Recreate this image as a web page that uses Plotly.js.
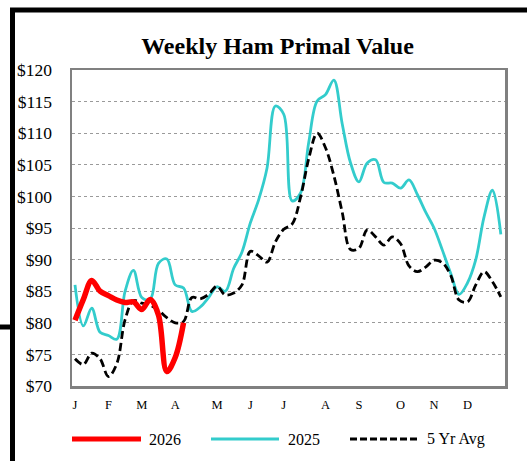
<!DOCTYPE html>
<html>
<head>
<meta charset="utf-8">
<script src="https://cdn.plot.ly/plotly-3.0.1.min.js"></script>
<style>
  html, body { margin: 0; padding: 0; background: #fff; }
  #chart { width: 527px; height: 461px; }
</style>
</head>
<body>
<div id="chart"></div>
<script>
// ---- Data (weekly values, week 1..52) ----
const seriesNames = ["2026", "2025", "5 Yr Avg"];

const values2026 = [80.4, 83.7, 86.7, 85.0, 84.3, 83.6, 83.2, 83.3, 82.1, 83.7, 81.2, 72.3, 74.5, 80.0];

const values2025 = [86.0, 79.5, 82.3, 78.5, 78.0, 77.4, 85.0, 88.3, 84.0, 83.7, 89.4, 90.1, 86.0, 85.5,
  81.8, 82.5, 84.0, 85.7, 85.0, 88.6, 91.2, 95.8, 99.5, 104.5, 114.3, 113.0, 99.3, 100.5,
  108.6, 115.1, 116.1, 118.4, 111.5, 105.3, 102.3, 105.3, 105.8, 102.2, 102.1, 101.3, 102.6,
  100.3, 97.5, 95.0, 91.5, 87.8, 84.5, 86.3, 90.0, 96.8, 101.0, 94.0];

const valuesAvg = [74.3, 73.4, 75.2, 74.3, 71.5, 73.5, 80.5, 83.5, 83.1, 82.8, 82.0, 80.8, 80.0, 80.2,
  84.0, 83.8, 84.5, 85.8, 84.4, 84.7, 86.0, 91.3, 90.6, 89.6, 92.8, 94.8, 95.6, 99.8,
  106.0, 110.0, 107.7, 103.3, 97.5, 91.6, 91.8, 94.7, 93.6, 92.3, 93.6, 92.5, 89.0,
  88.1, 88.8, 89.9, 89.5, 87.5, 83.6, 83.3, 86.0, 88.1, 86.5, 84.1];

const monthLabels = ["J", "F", "M", "A", "M", "J", "J", "A", "S", "O", "N", "D"];
const monthWeeks = [1, 5, 9, 13, 18, 22, 26, 31, 35, 40, 44, 48];

const yTicks = [70, 75, 80, 85, 90, 95, 100, 105, 110, 115, 120];
const yTickLabels = ["$70", "$75", "$80", "$85", "$90", "$95", "$100", "$105", "$110", "$115", "$120"];

// ---- Styling ----
const colors = ["#FF0000", "#33CCCC", "#000000"];
const FONT = "Liberation Serif, Times New Roman, serif";

const W = 527, H = 461;
const M = { l: 72, r: 22, t: 70, b: 75 };
const plotW = W - M.l - M.r, plotH = H - M.t - M.b;
const px = x => (x - M.l) / plotW;        // page px -> paper x
const py = y => (H - M.b - y) / plotH;    // page py -> paper y

const weeksOf = arr => arr.map((_, i) => i + 1);

const traces = [
  { name: seriesNames[1], x: weeksOf(values2025), y: values2025, type: "scatter", mode: "lines",
    line: { color: colors[1], width: 2.8, shape: "spline", smoothing: 1 } },
  { name: seriesNames[2], x: weeksOf(valuesAvg), y: valuesAvg, type: "scatter", mode: "lines",
    line: { color: colors[2], width: 2.8, dash: "8px,4px", shape: "spline", smoothing: 1 } },
  { name: seriesNames[0], x: weeksOf(values2026), y: values2026, type: "scatter", mode: "lines",
    line: { color: colors[0], width: 5.5, shape: "spline", smoothing: 1 } }
];

// custom legend (long line samples, as in the reference)
const legendY = py(439);
const legendItems = [
  { x0: 72, x1: 141, tx: 146.5, name: seriesNames[0], color: colors[0], width: 5, dash: "solid" },
  { x0: 211, x1: 279, tx: 286, name: seriesNames[1], color: colors[1], width: 3, dash: "solid" },
  { x0: 350, x1: 418, tx: 425, name: seriesNames[2], color: colors[2], width: 3, dash: "7px,3px" }
];

const shapes = [
  // black frame pieces of the surrounding page
  { type: "line", xref: "paper", yref: "paper", x0: px(10), x1: px(527), y0: py(10), y1: py(10),
    line: { color: "#000", width: 5 } },
  { type: "line", xref: "paper", yref: "paper", x0: px(12.5), x1: px(12.5), y0: py(8), y1: py(461),
    line: { color: "#000", width: 5 } },
  { type: "line", xref: "paper", yref: "paper", x0: px(0), x1: px(13), y0: py(327), y1: py(327),
    line: { color: "#000", width: 5 } }
];
const annotations = [];
legendItems.forEach(it => {
  shapes.push({ type: "line", xref: "paper", yref: "paper", x0: px(it.x0), x1: px(it.x1),
    y0: legendY, y1: legendY, line: { color: it.color, width: it.width, dash: it.dash } });
  annotations.push({ xref: "paper", yref: "paper", x: px(it.tx), y: legendY, xanchor: "left",
    yanchor: "middle", text: it.name, showarrow: false, font: { family: FONT, size: 16, color: "#000" } });
});

const layout = {
  width: W, height: H,
  margin: M,
  paper_bgcolor: "#fff", plot_bgcolor: "#fff",
  showlegend: false,
  title: {
    text: "<b>Weekly Ham Primal Value</b>",
    font: { family: FONT, size: 24, color: "#000" },
    xref: "container", yref: "container", x: 277.5 / W, xanchor: "center",
    y: 1 - 46 / H, yanchor: "middle"
  },
  xaxis: {
    range: [0.64, 52.5],
    tickmode: "array", tickvals: monthWeeks, ticktext: monthLabels,
    tickfont: { family: FONT, size: 12.5, color: "#000" },
    ticks: "", ticklabelstandoff: 5,
    showgrid: false, zeroline: false,
    showline: true, linecolor: "#808080", linewidth: 2.5, mirror: true
  },
  yaxis: {
    range: [70, 120],
    tickmode: "array", tickvals: yTicks, ticktext: yTickLabels,
    tickfont: { family: FONT, size: 17.5, color: "#000" },
    ticks: "", ticklabelstandoff: 14,
    showgrid: true, gridcolor: "#9a9a9a", gridwidth: 1, griddash: "dot",
    zeroline: false,
    showline: true, linecolor: "#808080", linewidth: 2.5, mirror: true
  },
  shapes: shapes,
  annotations: annotations
};

Plotly.newPlot("chart", traces, layout, { displayModeBar: false, staticPlot: true });
</script>
</body>
</html>
